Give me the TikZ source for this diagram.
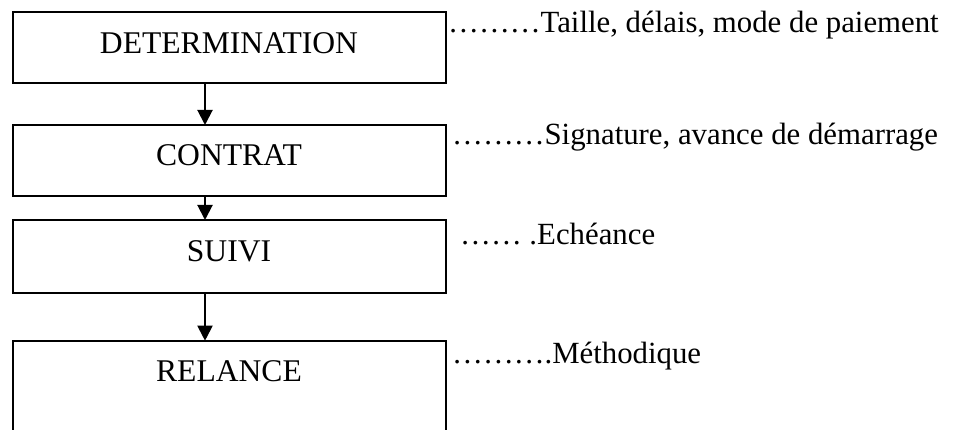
\documentclass[tikz,border=0pt]{standalone}
\usepackage{fontspec}
\setmainfont{Liberation Serif}
\usetikzlibrary{arrows.meta}
\tikzset{
  stage/.style={draw, line width=2pt, minimum width=433pt, inner sep=0pt, outer sep=0pt, anchor=north west},
  stagetext/.style={anchor=base, inner sep=0pt, font=\fontsize{31.6}{36}\selectfont},
  note/.style={anchor=base west, inner sep=0pt, font=\fontsize{30.8}{36}\selectfont},
  flow/.style={line width=2pt, -{Triangle[length=15pt,width=15pt]}},
}
\begin{document}
\begin{tikzpicture}[x=1pt,y=-1pt]
\useasboundingbox (0,0) rectangle (971,430);
\clip (0,0) rectangle (971,430);

% stage boxes
\node[stage, minimum height=71pt]   (b1) at (12.7,11.7)  {};
\node[stage, minimum height=71pt]   (b2) at (12.7,125)   {};
\node[stage, minimum height=72.5pt] (b3) at (12.7,220)   {};
\node[stage, minimum height=120pt]  (b4) at (12.7,340.7) {};

% stage titles
\node[stagetext] (t1) at (229,53.3)  {DETERMINATION};
\node[stagetext] (t2) at (229,165.7) {CONTRAT};
\node[stagetext] (t3) at (229,261.7) {SUIVI};
\node[stagetext] (t4) at (229,381.7) {RELANCE};

% flow arrows, left of the box centres
\coordinate (ax) at (205,0);
\draw[flow] (b1.south -| ax) -- (b2.north -| ax);
\draw[flow] (b2.south -| ax) -- (b3.north -| ax);
\draw[flow] (b3.south -| ax) -- (b4.north -| ax);

% side notes
\node[note] (n1) at (448,33)  {………Taille, délais, mode de paiement};
\node[note] (n2) at (452,145) {………Signature, avance de démarrage};
\node[note] (n3) at (460,245) {…… .Echéance};
\node[note] (n4) at (452,363) {……….Méthodique};
\end{tikzpicture}
\end{document}
